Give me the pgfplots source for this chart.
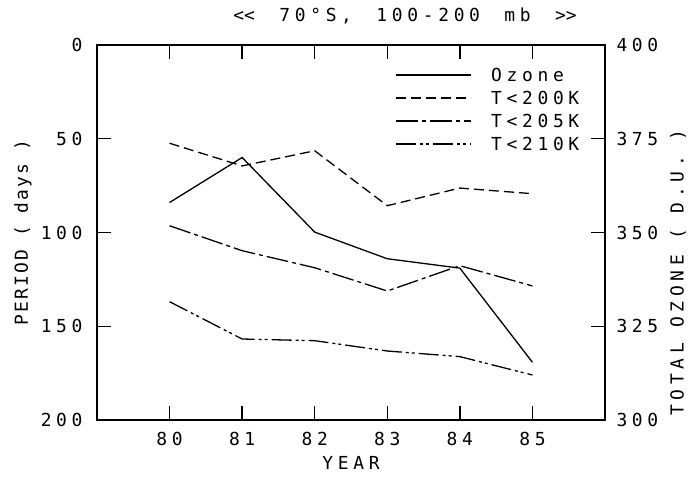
\documentclass[border=0pt]{standalone}
\usepackage{fontspec}
\setmainfont{DejaVu Sans Mono}[LetterSpace=26]
\newfontfamily\lfont{DejaVu Sans Mono}[LetterSpace=12]
\usepackage{pgfplots}
\usepackage{pgfplotstable}
\pgfplotsset{compat=1.18}
\newcommand\pf{\fontsize{18}{21}\selectfont}

\pgfplotstableread{
year ozone
80 358.0
81 370.0
82 350.1
83 343.0
84 340.5
85 315.4
}\ozonedata

\pgfplotstableread{
year t200 t205 t210
80 52.4 96.4 136.9
81 64.5 109.7 156.8
82 56.4 118.8 157.7
83 85.7 131.2 163.2
84 76.3 117.7 166.2
85 79.3 128.5 176.0
}\perioddata

\pgfplotsset{
  basestyle/.style={
    width=508bp, height=375bp, scale only axis,
    xmin=79, xmax=86,
    axis line style={line width=1.5bp, black},
    tick style={line width=1.3bp, black},
    major tick length=14bp,
    tick align=inside,
    /pgf/number format/assume math mode=true,
    tick label style={font=\pf},
    label style={font=\pf},
  },
  t200/.style={black, line width=1.3bp, dash pattern=on 10bp off 5bp},
  t205/.style={black, line width=1.3bp, dash pattern=on 22bp off 4bp on 4bp off 4bp},
  t210/.style={black, line width=1.3bp, dash pattern=on 20bp off 4bp on 3bp off 3bp on 3bp off 4bp},
  ozstyle/.style={black, line width=1.3bp, solid},
}

\begin{document}
\begin{tikzpicture}[font=\pf]
\useasboundingbox (-97bp,-57bp) rectangle (593bp,420bp);
\begin{axis}[
  basestyle,
  y dir=reverse,
  ymin=0, ymax=200,
  ytick={0,50,100,150,200},
  ytick pos=left,
  xtick={80,81,82,83,84,85},
  xticklabel style={yshift=-9bp},
  yticklabel style={xshift=-11bp},
  xlabel={\pf YEAR},
  xlabel style={at={(axis description cs:0.5,-0.115)}, anchor=center},
  ylabel={\lfont\pf PERIOD ( days )},
  ylabel style={at={(axis description cs:-0.1457,0.5)}, anchor=center, rotate=0},
  title={\pf <\kern0pt<\hspace{9bp} 70°S,\hspace{9bp} 100-200\hspace{9bp} mb\hspace{9bp} >\kern0pt>},
  title style={at={(axis description cs:0.268,1.062)}, anchor=west, inner sep=0pt},
]
\addplot[t200] table[x=year, y=t200] {\perioddata};
\addplot[t205] table[x=year, y=t205] {\perioddata};
\addplot[t210] table[x=year, y=t210] {\perioddata};
\end{axis}
\begin{axis}[
  basestyle,
  axis x line=none,
  axis y line*=right,
  ymin=300, ymax=400,
  ytick={300,325,350,375,400},
  ytick pos=right,
  yticklabel pos=right,
  yticklabel style={xshift=8bp},
  ylabel={\pf TOTAL OZONE ( D.U. )},
  ylabel style={at={(axis description cs:1.1437,0.011)}, anchor=west, inner sep=0pt, rotate=0},
  legend image code/.code={\draw[#1] (0bp,0bp) -- (75bp,0bp);},
  legend cell align=left,
  legend style={
    at={(axis description cs:0.587,0.951)}, anchor=north west,
    draw=none, fill=none, inner sep=0pt, row sep=0pt,
    nodes={inner sep=5.5bp, text height=12bp, text depth=0bp},
    font=\pf,
    /tikz/every odd column/.append style={column sep=14bp},
  },
]
\addplot[ozstyle] table[x=year, y=ozone] {\ozonedata};
\addlegendentry{Ozone}
\addlegendimage{t200}
\addlegendentry{T<200K}
\addlegendimage{t205}
\addlegendentry{T<205K}
\addlegendimage{t210}
\addlegendentry{T<210K}
\end{axis}
\end{tikzpicture}
\end{document}
